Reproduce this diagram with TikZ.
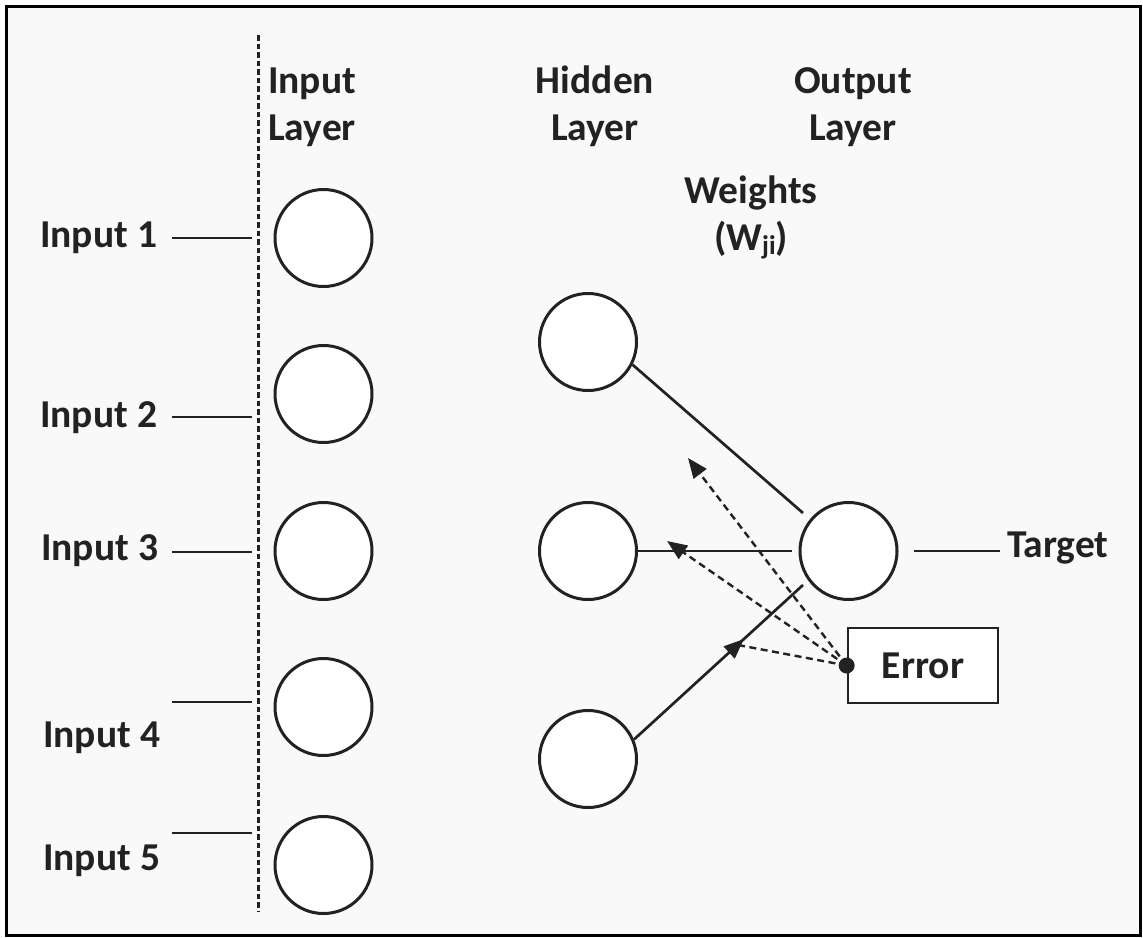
\documentclass[tikz,border=0pt]{standalone}
\usepackage{fontspec}
\setmainfont{Carlito}
\usetikzlibrary{arrows.meta,decorations.markings,calc}
\definecolor{bg}{HTML}{F9F9F9}
\definecolor{ink}{HTML}{222222}
\newcommand{\wsub}[1]{\raisebox{-0.22ex}{\fontsize{27}{27}\selectfont #1}}
\begin{document}
\begin{tikzpicture}[x=1pt,y=-1pt,
  every node/.style={font=\fontsize{39.5}{47}\selectfont\bfseries, text=ink},
  neuron/.style={circle, draw=ink, line width=3pt, fill=white, minimum size=97pt, inner sep=0pt},
  wire/.style={draw=ink, line width=2.7pt},
  back/.style={draw=ink, line width=2.4pt, dash pattern=on 7pt off 4.5pt, -{Triangle[length=20pt,width=16pt]}},
  lbl/.style={anchor=base west, inner sep=0pt},
  ttl/.style={align=center, anchor=base, inner sep=0pt},
]
\useasboundingbox (0,0) rectangle (1143,937);
\fill[white] (0,0) rectangle (1143,937);
\draw[line width=3pt, fill=bg] (6,6) rectangle (1140,935);

% dashed separator
\coordinate (dtop) at (258,35);
\coordinate (dbot) at (258,912);
\draw[ink, line width=3pt, dash pattern=on 5.5pt off 3pt] (dtop) -- (dbot);

% titles (base anchor = baseline of last line)
\node[lbl, align=left] (til) at (268,140) {Input\\Layer};
\node[ttl] (thl) at (595,140) {Hidden\\Layer};
\node[ttl] (tol) at (853,140) {Output\\Layer};
\node[ttl] (tw) at (751,250) {Weights\\(W\wsub{ji})};

% input neurons
\node[neuron] (i1) at (323.5,238) {};
\node[neuron] (i2) at (323.5,394) {};
\node[neuron] (i3) at (323.5,551) {};
\node[neuron] (i4) at (323.5,707) {};
\node[neuron] (i5) at (323.5,865) {};

% input labels
\node[lbl] (t1) at (40,247) {Input 1};
\node[lbl] (t2) at (40,427) {Input 2};
\node[lbl] (t3) at (41,560) {Input 3};
\node[lbl] (t4) at (43,747) {Input 4};
\node[lbl] (t5) at (43,870) {Input 5};
\coordinate (s1) at (172,238);
\coordinate (s2) at (172,417);
\coordinate (s3) at (172,552);
\coordinate (s4) at (172,702);
\coordinate (s5) at (172,833);
\foreach \s in {s1,s2,s3,s4,s5}
  \draw[wire, shorten >=6pt] (\s) -- (\s -| dtop);

% hidden and output neurons
\node[neuron] (h1) at (588,342) {};
\node[neuron] (h2) at (588,551) {};
\node[neuron] (h3) at (588,759) {};
\node[neuron] (o) at (848.5,551) {};

\coordinate (e1) at (803,513);
\coordinate (e2) at (792,551);
\coordinate (e3) at (803,585);
\draw[wire] (h1.-27) -- (e1);
\draw[wire] (h2.east) -- (e2);
\draw[wire, postaction={decorate}, decoration={markings,
  mark=at position 0.65 with {\arrow{Triangle[length=20pt,width=16pt]}}}] (h3.23) -- (e3);

% target
\node[lbl] (tg) at (1007,557) {Target};
\draw[wire] ([xshift=15pt]o.east) -- ([xshift=-7pt]o.east -| tg.west);

% error
\node[draw=ink, line width=2.7pt, fill=white, minimum width=150pt, minimum height=75pt, inner sep=0pt] (err) at (923,665.5) {Error};
\coordinate (a1) at (688,458);
\coordinate (a2) at (667,541);
\coordinate (a3) at (738,645);
\draw[back] (err.west) -- (a1);
\draw[back] (err.west) -- (a2);
\draw[draw=ink, line width=2.4pt, dash pattern=on 7pt off 4.5pt] (err.west) -- (a3);
\node[circle, fill=ink, minimum size=16pt, inner sep=0pt] (dot) at (err.west) {};
\end{tikzpicture}
\end{document}
